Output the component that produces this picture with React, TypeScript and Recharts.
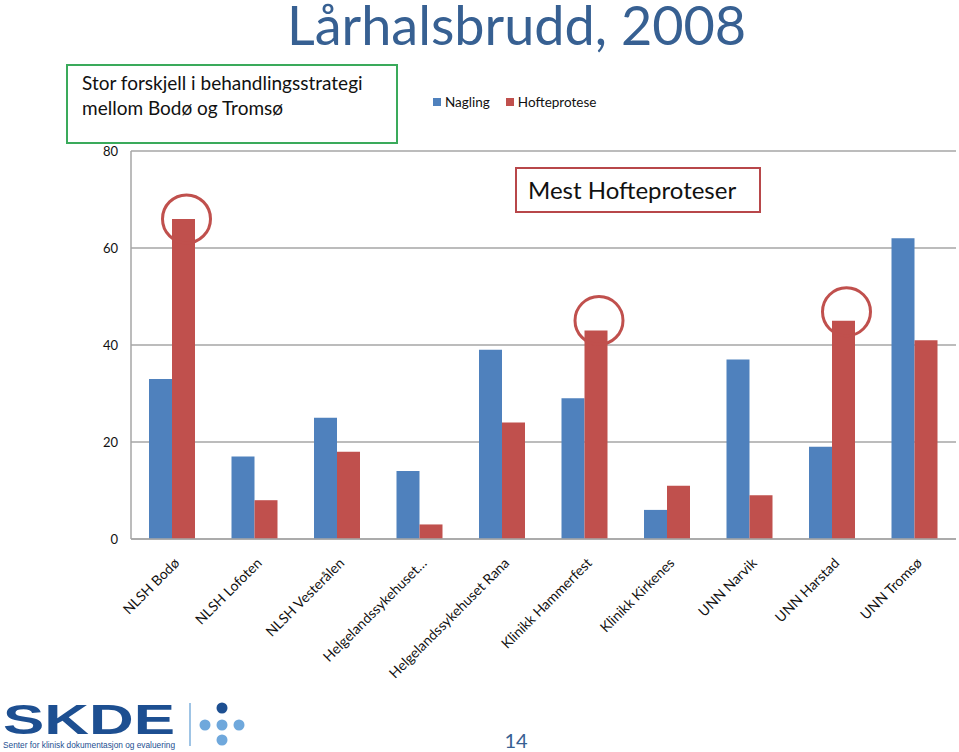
import React from 'react';
import { BarChart, Bar, XAxis, YAxis, CartesianGrid, Legend } from 'recharts';

const hospitals = [
  'NLSH Bodø',
  'NLSH Lofoten',
  'NLSH Vesterålen',
  'Helgelandssykehuset…',
  'Helgelandssykehuset Rana',
  'Klinikk Hammerfest',
  'Klinikk Kirkenes',
  'UNN Narvik',
  'UNN Harstad',
  'UNN Tromsø',
];
const nagling = [33, 17, 25, 14, 39, 29, 6, 37, 19, 62];
const hofteprotese = [66, 8, 18, 3, 24, 43, 11, 9, 45, 41];
const yTicks = [0, 20, 40, 60, 80];
const circled = ['NLSH Bodø', 'Klinikk Hammerfest', 'UNN Harstad'];

const data = hospitals.map((name, i) => ({
  name,
  nagling: nagling[i],
  hofteprotese: hofteprotese[i],
}));

const BLUE = '#4F81BD';
const RED = '#C0504D';
const GRID = '#A6A6A6';
const TITLE = '#376092';
const FONT = 'Lato, "Open Sans", sans-serif';

const series = [
  { name: 'Nagling', color: BLUE },
  { name: 'Hofteprotese', color: RED },
];

// circles were placed by hand on the slide, so they sit a bit above some bars
const circleLift: Record<number, number> = { 0: 0, 5: 10, 8: 9 };

const renderCircle = (props: any) => {
  const { x, y, width, index } = props;
  if (!circled.includes(hospitals[index])) return null;
  return (
    <circle
      cx={x + width / 2 + 3}
      cy={y - (circleLift[index] ?? 0)}
      r={24}
      fill="none"
      stroke={RED}
      strokeWidth={3}
    />
  );
};

const AngledTick = ({ x, y, payload }: any) => (
  <g transform={`translate(${x + 8},${y + 17})`}>
    <text textAnchor="end" transform="rotate(-45)" fontSize={14} fontFamily={FONT} fill="#111">
      {payload.value}
    </text>
  </g>
);

const renderLegend = () => (
  <div style={{ display: 'flex', fontFamily: FONT, fontSize: 13.5, color: '#111', lineHeight: '16px' }}>
    {series.map((s) => (
      <span key={s.name} style={{ display: 'flex', alignItems: 'center', marginRight: 16 }}>
        <span style={{ width: 8, height: 8, background: s.color, display: 'inline-block', marginRight: 4 }} />
        {s.name}
      </span>
    ))}
  </div>
);

export default function App() {
  return (
    <div style={{ position: 'absolute', left: 0, top: 0, width: 959, height: 752, background: '#fff', fontFamily: FONT }}>
      <BarChart
        width={959}
        height={752}
        data={data}
        margin={{ top: 151, right: 3, left: 0, bottom: 63 }}
        barGap={0}
        barSize={23}
      >
        <CartesianGrid vertical={false} stroke={GRID} strokeWidth={1.5} />
        <YAxis
          width={131}
          domain={[0, 80]}
          ticks={yTicks}
          tickLine={false}
          tickMargin={7}
          axisLine={{ stroke: GRID, strokeWidth: 1.5 }}
          tick={{ fontSize: 13, fill: '#111', fontFamily: FONT }}
        />
        <XAxis
          dataKey="name"
          height={150}
          interval={0}
          tickLine={false}
          axisLine={{ stroke: GRID, strokeWidth: 1.5 }}
          tick={<AngledTick />}
        />
        <Legend
          layout="horizontal"
          verticalAlign="middle"
          align="center"
          content={renderLegend}
          wrapperStyle={{ top: 94, left: 433, width: 220, height: 16 }}
        />
        <Bar dataKey="nagling" name="Nagling" fill={BLUE} isAnimationActive={false} />
        <Bar dataKey="hofteprotese" name="Hofteprotese" fill={RED} isAnimationActive={false} label={renderCircle} />
      </BarChart>

      <svg width={959} height={752} style={{ position: 'absolute', left: 0, top: 0, pointerEvents: 'none' }}>
        <text x={287} y={45} fontSize={54} fill={TITLE} fontFamily={FONT}>Lårhalsbrudd, 2008</text>

        <rect x={67} y={65} width={330} height={78} fill="none" stroke="#3AAA5B" strokeWidth={2} />
        <text x={82} y={90} fontSize={19} fill="#111" fontFamily={FONT}>Stor forskjell i behandlingsstrategi</text>
        <text x={82} y={115} fontSize={19} fill="#111" fontFamily={FONT}>mellom Bodø og Tromsø</text>

        <rect x={516} y={168} width={244} height={44} fill="#fff" stroke="#B8474A" strokeWidth={2} />
        <text x={528} y={199} fontSize={24} fill="#111" fontFamily={FONT}>Mest Hofteproteser</text>

        <text x={516} y={748} fontSize={20} fill={TITLE} textAnchor="middle" fontFamily={FONT}>14</text>

        <text x={3} y={734} fontSize={43} fontWeight="bold" fill="#1D4F91" fontFamily='"Liberation Sans", Arial, sans-serif' textLength={172} lengthAdjust="spacingAndGlyphs">SKDE</text>
        <text x={3} y={748} fontSize={9} fill="#1D4F91" fontFamily='"Liberation Sans", Arial, sans-serif' textLength={172} lengthAdjust="spacingAndGlyphs">Senter for klinisk dokumentasjon og evaluering</text>
        <line x1={190} y1={703} x2={190} y2={746} stroke="#7FB0DC" strokeWidth={1.5} />
        <circle cx={222} cy={708} r={5.5} fill="#1D4F91" />
        <circle cx={205} cy={725} r={5.5} fill="#6FA8DC" />
        <circle cx={222} cy={725} r={5.5} fill="#6FA8DC" />
        <circle cx={239} cy={725} r={5.5} fill="#6FA8DC" />
        <circle cx={222} cy={740} r={5.5} fill="#6FA8DC" />
      </svg>
    </div>
  );
}
